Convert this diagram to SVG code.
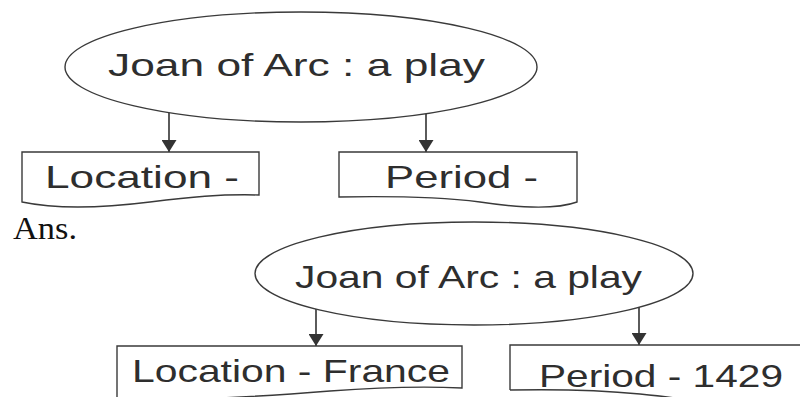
<svg xmlns="http://www.w3.org/2000/svg" width="800" height="397" viewBox="0 0 800 397">
<style>
.shape{fill:#fff;stroke:#3a3a3a;stroke-width:1.4}
.lbl{font-family:"Liberation Sans",Arial,sans-serif;font-size:32px;fill:#2e2e2e}
.ans{font-family:"Liberation Serif","Times New Roman",serif;font-size:32px;fill:#111}
.conn{stroke:#333;stroke-width:1.6;fill:none;marker-end:url(#arr)}
</style>
<defs>
<marker id="arr" markerWidth="12" markerHeight="15" refX="12" refY="7.5" orient="auto" markerUnits="userSpaceOnUse">
<path d="M0,0 L12,7.5 L0,15 Z" fill="#333"/>
</marker>
</defs>
<rect width="800" height="397" fill="#fff"/>

<g id="connectors">
<line class="conn" x1="169" y1="113" x2="169" y2="152"/>
<line class="conn" x1="426" y1="114" x2="426" y2="152"/>
<line class="conn" x1="316" y1="309" x2="316" y2="346"/>
<line class="conn" x1="639" y1="307" x2="639" y2="345"/>
</g>

<g id="q-root">
<ellipse class="shape" cx="301" cy="67" rx="236" ry="55"/>
<text class="lbl" x="108" y="76" textLength="377" lengthAdjust="spacingAndGlyphs">Joan of Arc : a play</text>
</g>
<g id="q-location">
<path class="shape" d="M22,202 V152 H259 V195 C220,194 190,197 150,202 C110,207 60,210 22,202 Z"/>
<text class="lbl" x="45" y="188" textLength="194" lengthAdjust="spacingAndGlyphs">Location -</text>
</g>
<g id="q-period">
<path class="shape" d="M339,197 V152 H577 V202 C555,210 520,208 480,202 C440,197 390,196 339,197 Z"/>
<text class="lbl" x="385" y="188" textLength="153" lengthAdjust="spacingAndGlyphs">Period -</text>
</g>

<g id="ans">
<text class="ans" x="13" y="239" textLength="64" lengthAdjust="spacingAndGlyphs">Ans.</text>
</g>

<g id="a-root">
<ellipse class="shape" cx="474" cy="273.5" rx="219" ry="51.5"/>
<text class="lbl" x="295" y="288" textLength="347" lengthAdjust="spacingAndGlyphs">Joan of Arc : a play</text>
</g>
<g id="a-location">
<path class="shape" d="M117,400 V346 H462 V388 C420,386 370,388 330,391 C280,395 200,401 117,400 Z"/>
<text class="lbl" x="132" y="382" textLength="318" lengthAdjust="spacingAndGlyphs">Location - France</text>
</g>
<g id="a-period">
<path class="shape" d="M510,390 V345 H806 V410 L510,410 Z" style="stroke:none"/>
<path class="shape" d="M510,390 V345 H806" style="fill:none"/>
<path class="shape" d="M510,390 C560,389 600,390 640,394 C670,397 690,400 700,402" style="fill:none"/>
<text class="lbl" x="539" y="387" textLength="244" lengthAdjust="spacingAndGlyphs">Period - 1429</text>
</g>
</svg>
